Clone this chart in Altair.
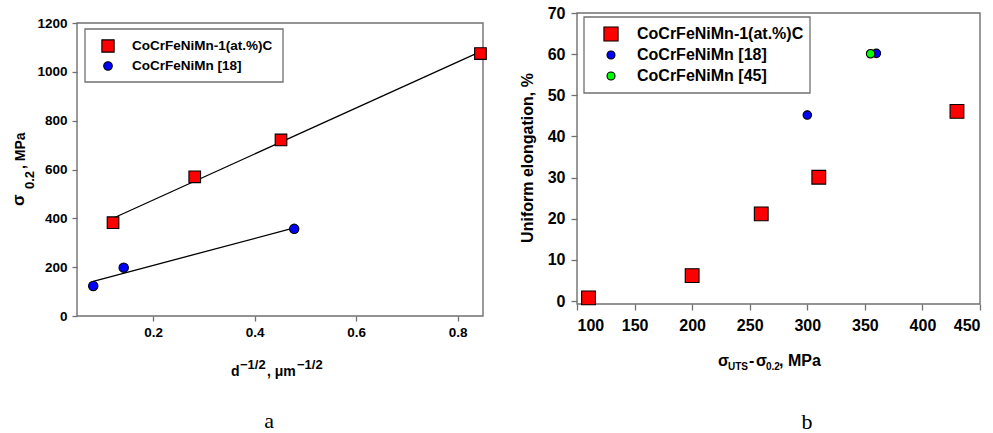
import altair as alt
import pandas as pd

# ---------------- Panel (a): Hall-Petch plot ----------------
a_labels = ["CoCrFeNiMn-1(at.%)C", "CoCrFeNiMn [18]"]
a_carbon_x = [0.121, 0.282, 0.452, 0.845]
a_carbon_y = [382, 570, 721, 1075]
a_base_x = [0.082, 0.142, 0.478]
a_base_y = [123, 198, 357]
a_xticks = [0.2, 0.4, 0.6, 0.8]
a_yticks = [0, 200, 400, 600, 800, 1000, 1200]
a_xlim = [0.05, 0.85]
a_ylim = [0, 1200]

# ---------------- Panel (b): uniform elongation ----------------
b_labels = ["CoCrFeNiMn-1(at.%)C", "CoCrFeNiMn [18]", "CoCrFeNiMn [45]"]
b_carbon_x = [110, 200, 260, 310, 430]
b_carbon_y = [0.8, 6.2, 21.2, 30.1, 46.1]
b_ref18_x = [300, 360]
b_ref18_y = [45.2, 60.2]
b_ref45_x = [355]
b_ref45_y = [60.1]
b_xticks = [100, 150, 200, 250, 300, 350, 400, 450]
b_yticks = [0, 10, 20, 30, 40, 50, 60, 70]
b_xlim = [100, 450]
b_ylim = [-0.7, 70]

series_colors = ["#ff0000", "#0000ff", "#00ff00"]
series_shapes = ["square", "circle", "circle"]

FONT = "Liberation Sans, Arial, sans-serif"
SERIF = "'Liberation Serif', 'Times New Roman', serif"
GRAY = "#707070"


def one(text=""):
    return alt.Chart(pd.DataFrame({"t": [text]}))


def label(text, x, y, size, font=FONT, weight="bold", angle=0,
          align="left", baseline="alphabetic"):
    return one(text).mark_text(
        align=align, baseline=baseline, font=font, fontSize=size,
        fontWeight=weight, angle=angle, color="black"
    ).encode(x=alt.value(x), y=alt.value(y), text="t:N")


def canvas(x0, x1, y0, y1):
    # transparent block that fixes each panel's extent in the layout
    return one().mark_rect(fill="white", opacity=0, strokeWidth=0).encode(
        x=alt.value(x0), x2=alt.value(x1), y=alt.value(y0), y2=alt.value(y1))


def legend(labels, x_box, y_box, x_sym, x_txt, y0, step, fsize, sq, circ):
    layers = [one().mark_rect(fill="white", stroke=GRAY, strokeWidth=1.3).encode(
        x=alt.value(x_box[0]), x2=alt.value(x_box[1]),
        y=alt.value(y_box[0]), y2=alt.value(y_box[1]))]
    for i, lab in enumerate(labels):
        yy = y0 + i * step
        layers.append(one(lab).mark_point(
            shape=series_shapes[i], filled=True, fill=series_colors[i],
            stroke="black", strokeWidth=1.1, opacity=1,
            size=sq if series_shapes[i] == "square" else circ,
        ).encode(x=alt.value(x_sym), y=alt.value(yy)))
        layers.append(label(lab, x_txt, yy, fsize, baseline="middle"))
    return layers


def markers(df, labels, x, y, sq, circ):
    # one layer per series: red squares, blue / green circles
    out = []
    for i, lab in enumerate(labels):
        out.append(alt.Chart(df).transform_filter(
            alt.datum.series == lab
        ).mark_point(
            shape=series_shapes[i], filled=True, fill=series_colors[i],
            stroke="black", strokeWidth=1.1, opacity=1,
            size=sq if series_shapes[i] == "square" else circ,
        ).encode(x=x, y=y))
    return out


def axis(values, fmt, size, tick, pad):
    return alt.Axis(values=values, format=fmt, title=None, domain=False,
                    grid=False, ticks=True, tickSize=tick, tickColor=GRAY,
                    tickWidth=1.3, labelFont=FONT, labelFontWeight="bold",
                    labelFontSize=size, labelColor="black", labelPadding=pad,
                    labelOverlap=False, zindex=1)


# ---------------- build panel (a) ----------------
WA, HA = 406, 303
a_top = a_ylim[1] * HA / (HA - 10)

a_df = pd.DataFrame({
    "x": a_carbon_x + a_base_x,
    "y": a_carbon_y + a_base_y,
    "series": [a_labels[0]] * len(a_carbon_x) + [a_labels[1]] * len(a_base_x),
})

xa = alt.X("x:Q", scale=alt.Scale(domain=a_xlim, nice=False, zero=False),
           axis=axis(a_xticks, ".1f", 13.5, 5, 4))
ya = alt.Y("y:Q", scale=alt.Scale(domain=[a_ylim[0], a_top], nice=False),
           axis=axis(a_yticks, "d", 13.5, 5, 5))

a_frame = one().mark_rect(fill="white", fillOpacity=0, stroke=GRAY, strokeWidth=1.4).encode(
    x=alt.datum(a_xlim[0]), x2=alt.datum(a_xlim[1]),
    y=alt.datum(a_ylim[0]), y2=alt.datum(a_ylim[1]))

a_fit = alt.Chart(a_df).transform_regression(
    "x", "y", groupby=["series"]
).mark_line(color="black", strokeWidth=1.3).encode(x=xa, y=ya, detail="series:N")

a_layers = [canvas(-77, 420, -13, 420), a_frame, a_fit]
a_layers += markers(a_df, a_labels, xa, ya, 135, 88)
a_layers += legend(a_labels, (8, 206), (16, 69), 31, 55, 33, 20, 13.5, 150, 74)
a_layers += [
    label("σ", -53, 193, 17, angle=270),
    label("0.2", -43, 176, 13, angle=270),
    label(", MPa", -52.5, 156, 14, angle=270),
    label("d", 154, 363, 14),
    label("−1/2", 163, 356, 13),
    label(", μm", 190, 363, 14),
    label("−1/2", 220, 356, 13),
    label("a", 192, 415, 22, font=SERIF, weight="normal", align="center"),
]
panel_a = alt.layer(*a_layers).properties(width=WA, height=HA)

# ---------------- build panel (b) ----------------
WB, HB = 403, 291
b_df = pd.DataFrame({
    "x": b_carbon_x + b_ref18_x + b_ref45_x,
    "y": b_carbon_y + b_ref18_y + b_ref45_y,
    "series": [b_labels[0]] * len(b_carbon_x) + [b_labels[1]] * len(b_ref18_x)
    + [b_labels[2]] * len(b_ref45_x),
})

xb = alt.X("x:Q", scale=alt.Scale(domain=b_xlim, nice=False, zero=False),
           axis=axis(b_xticks, "d", 16, 6, 7))
yb = alt.Y("y:Q", scale=alt.Scale(domain=b_ylim, nice=False, zero=False),
           axis=axis(b_yticks, "d", 16, 6, 6))

b_frame = one().mark_rect(fill="white", fillOpacity=0, stroke=GRAY, strokeWidth=1.4).encode(
    x=alt.datum(b_xlim[0]), x2=alt.datum(b_xlim[1]),
    y=alt.datum(b_ylim[0]), y2=alt.datum(b_ylim[1]))

b_layers = [canvas(-80, 416, -13, 420), b_frame]
b_layers += markers(b_df, b_labels, xb, yb, 190, 72)
b_layers += legend(b_labels, (7, 233), (4, 80), 34, 60, 21, 21, 16, 200, 64)
b_layers += [
    label("Uniform elongation, %", -49, 145, 16, angle=270,
          align="center", baseline="middle"),
    label("σ", 141, 353, 16),
    label("UTS", 151, 357, 10),
    label("-", 172, 353, 16),
    label("σ", 179, 353, 16),
    label("0.2", 189, 357, 10),
    label(", MPa", 202, 353, 16),
    label("b", 230, 416, 22, font=SERIF, weight="normal", align="center"),
]
panel_b = alt.layer(*b_layers).properties(width=WB, height=HB)

chart = alt.hconcat(panel_a, panel_b, spacing=0).properties(
    padding=0, background="white"
).configure_view(stroke=None)

chart.save("out.html", embed_options={"renderer": "svg", "actions": False})
